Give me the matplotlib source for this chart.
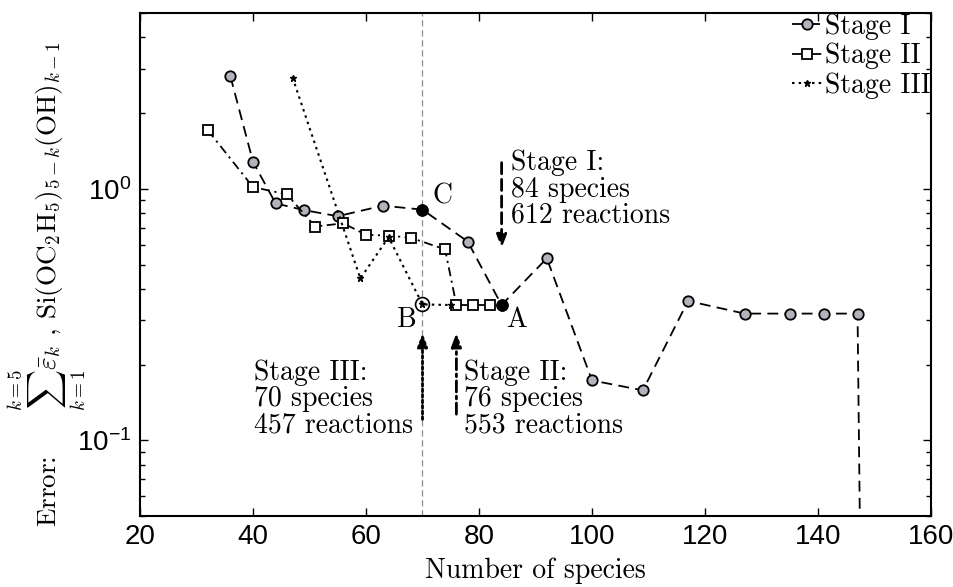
import matplotlib
matplotlib.use('Agg')
import matplotlib.pyplot as plt

plt.rcParams['mathtext.fontset'] = 'cm'
plt.rcParams['font.family'] = ['Liberation Sans', 'DejaVu Sans']

# %% data
stage1_x = [36, 40, 44, 49, 55, 63, 70, 78, 84, 92, 100, 109, 117, 127, 135, 141, 147, 148]
stage1_y = [2.80, 1.28, 0.875, 0.823, 0.778, 0.857, 0.826, 0.617, 0.345, 0.529,
            0.173, 0.158, 0.358, 0.319, 0.319, 0.319, 0.319, 0.003]

stage2_x = [32, 40, 46, 51, 56, 60, 64, 68, 74, 76, 79, 82]
stage2_y = [1.71, 1.016, 0.95, 0.708, 0.729, 0.656, 0.652, 0.638, 0.574, 0.345, 0.345, 0.345]

stage3_x = [47, 59, 64, 70, 75]
stage3_y = [2.77, 0.440, 0.642, 0.347, 0.345]

# highlighted points
point_a = (84, 0.345)
point_b = (70, 0.347)
point_c = (70, 0.826)

FS = 20
SERIF = 'cmr10'

# %% figure
fig = plt.figure(figsize=(9.54, 5.87), dpi=100)
ax = fig.add_axes([140/954, 71/587, 791/954, 503/587])

ax.axvline(70, color='0.55', lw=0.9, ls=(0, (5, 3)), zorder=1)

ax.plot(stage1_x, stage1_y, ls=(0, (6, 3.5)), color='k', lw=1.3,
        marker='o', ms=7.5, mfc='#b3b3bd', mec='k', mew=1.3,
        label='Stage I', zorder=3)
ax.plot(stage2_x, stage2_y, ls=(0, (5, 2.5, 1.2, 2.5)), color='k', lw=1.3,
        marker='s', ms=6.5, mfc='white', mec='k', mew=1.3,
        label='Stage II', zorder=4)
ax.plot(stage3_x, stage3_y, ls=(0, (1.2, 2)), color='k', lw=1.5,
        marker='*', ms=5, mfc='k', mec='k',
        label='Stage III', zorder=5)

ax.plot(*point_c, 'o', ms=8, color='k', zorder=6)
ax.plot(*point_a, 'o', ms=8, color='k', zorder=6)
ax.plot(*point_b, 'o', ms=10, mfc='none', mec='k', mew=1.2, zorder=6)

ax.text(71.7, 0.93, 'C', family=SERIF, fontsize=FS, va='center', ha='left')
ax.text(68.9, 0.300, 'B', family=SERIF, fontsize=FS, va='center', ha='right')
ax.text(84.8, 0.300, 'A', family=SERIF, fontsize=FS, va='center', ha='left')

# annotations
ax.annotate('', xy=(84, 0.58), xytext=(84, 1.27),
            arrowprops=dict(arrowstyle='-|>,head_length=0.8,head_width=0.3',
                            color='k', lw=2, ls=(0, (4, 2)), shrinkA=0, shrinkB=0))
ax.text(85.7, 1.43, 'Stage I:\n84 species\n612 reactions',
        family=SERIF, fontsize=FS, va='top', ha='left', linespacing=1.0)

ax.annotate('', xy=(70, 0.267), xytext=(70, 0.121),
            arrowprops=dict(arrowstyle='-|>,head_length=0.8,head_width=0.3',
                            color='k', lw=2, ls=(0, (1, 1)), shrinkA=0, shrinkB=0))
ax.text(40.1, 0.21, 'Stage III:\n70 species\n457 reactions',
        family=SERIF, fontsize=FS, va='top', ha='left', linespacing=1.0)

ax.annotate('', xy=(76, 0.267), xytext=(76, 0.127),
            arrowprops=dict(arrowstyle='-|>,head_length=0.8,head_width=0.3',
                            color='k', lw=2, ls=(0, (4, 1.5, 1, 1.5)), shrinkA=0, shrinkB=0))
ax.text(77.3, 0.21, 'Stage II:\n76 species\n553 reactions',
        family=SERIF, fontsize=FS, va='top', ha='left', linespacing=1.0)

# axes
ax.set_yscale('log')
ax.set_xlim(20, 160)
ax.set_ylim(0.05, 5)
ax.set_xticks([20, 40, 60, 80, 100, 120, 140, 160])
ax.tick_params(which='both', direction='in', top=True, right=True, labelsize=FS, pad=6)
ax.tick_params(which='major', length=6, width=1)
ax.tick_params(which='minor', length=3.5, width=1)
for s in ax.spines.values():
    s.set_linewidth(1.5)

ax.set_xlabel('Number of species', family=SERIF, fontsize=FS)
ax.xaxis.set_label_coords(0.5, -0.082)
ax.set_ylabel(r'Error:     $\sum_{k=1}^{k=5}\bar{\varepsilon}_k$ , '
              r'Si(OC$_2$H$_5$)$_{5-k}$(OH)$_{k-1}$', family=SERIF, fontsize=19.5)
ax.yaxis.set_label_coords(-0.066, 0.462)

ax.legend(loc='upper right', bbox_to_anchor=(1.0, 1.0), frameon=False,
          prop={'family': SERIF, 'size': FS}, handlelength=1.1, handletextpad=0.1,
          labelspacing=0.12, borderpad=0, borderaxespad=0)

fig.savefig('out.png', dpi=100)
